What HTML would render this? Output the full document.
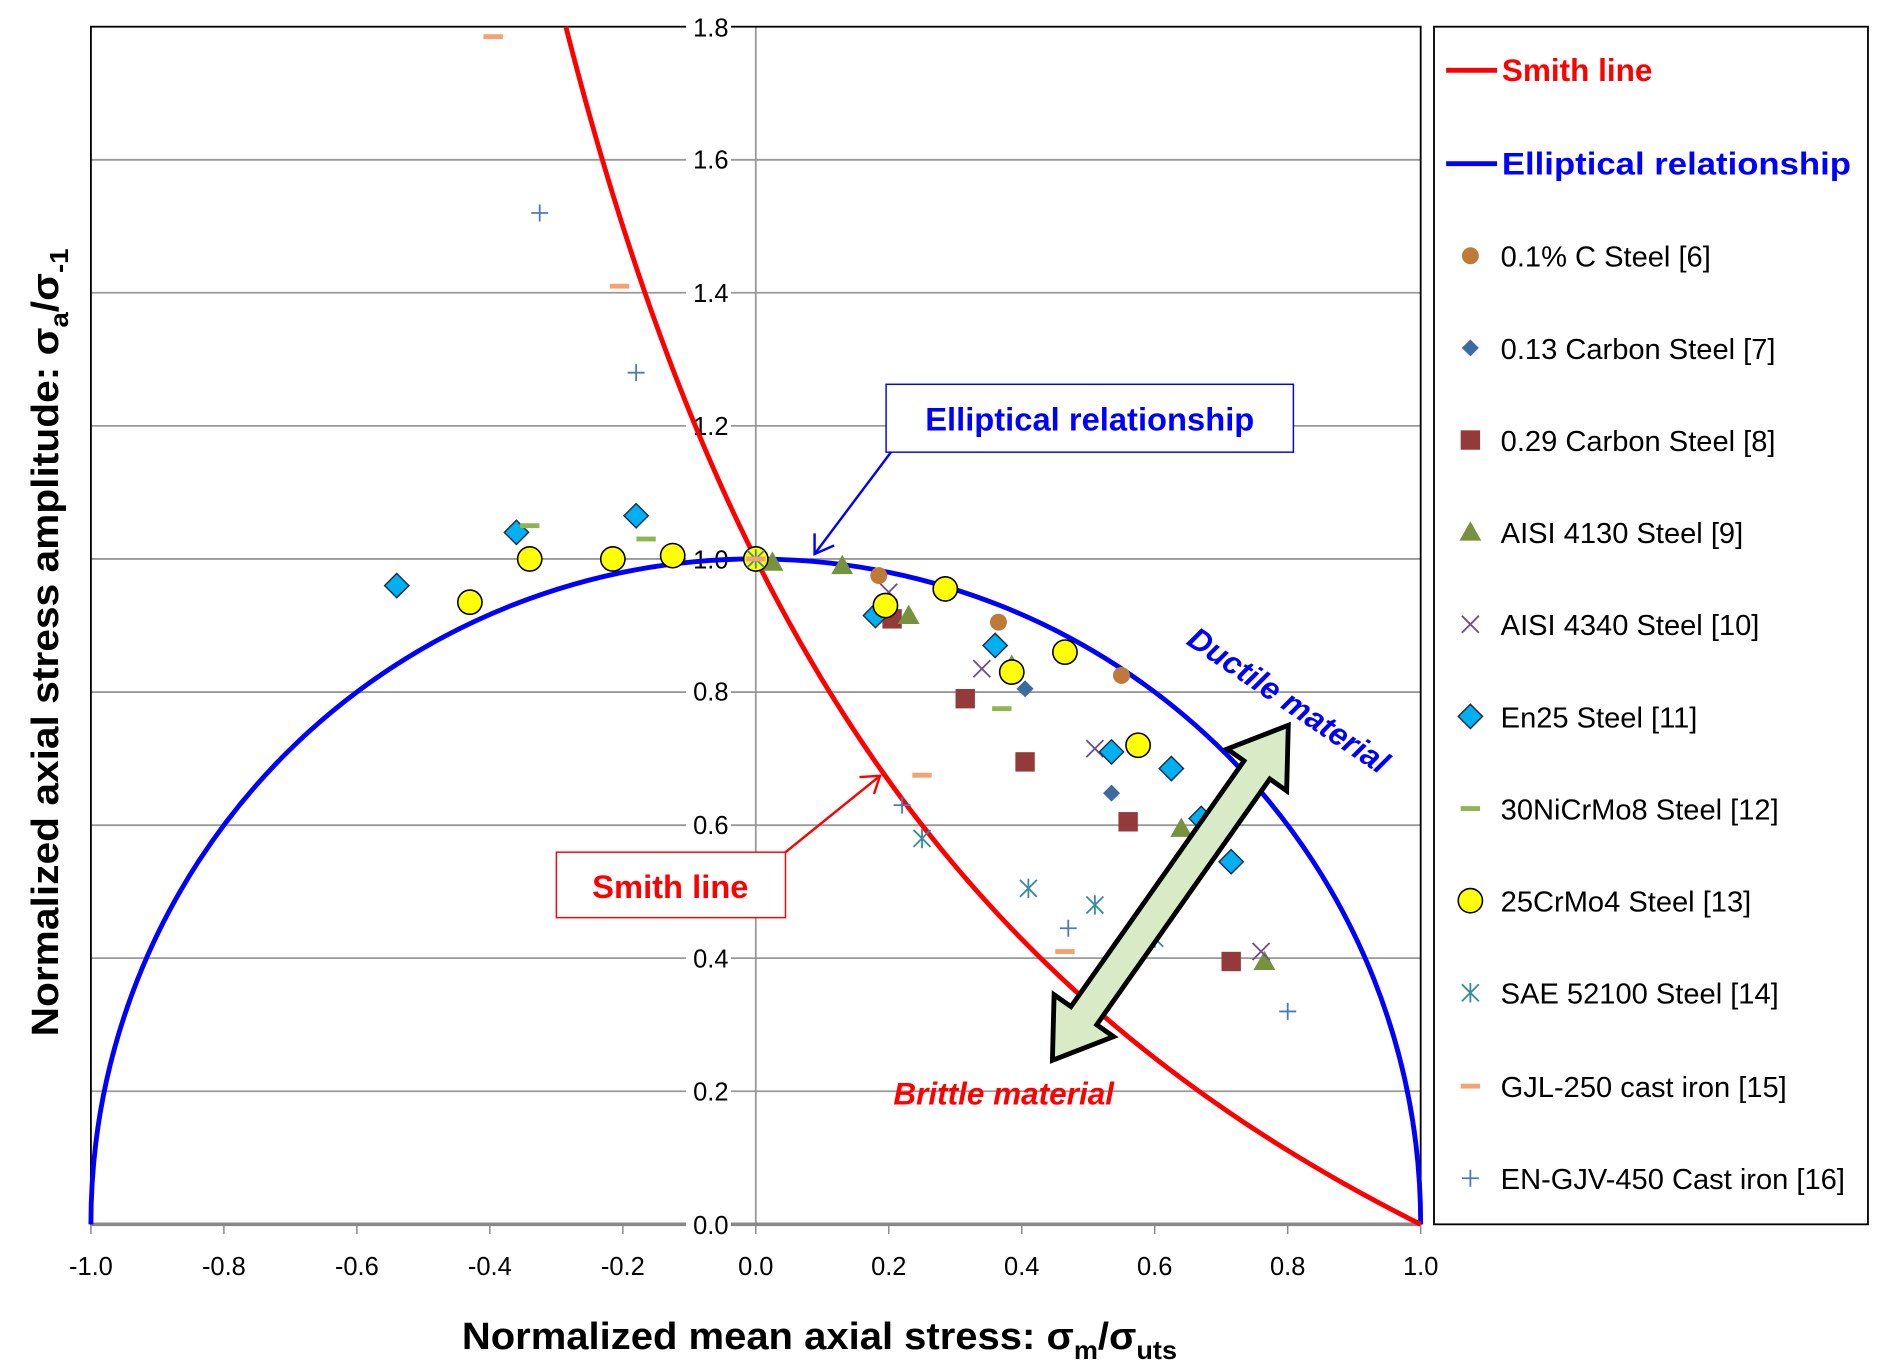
<!DOCTYPE html>
<html><head><meta charset="utf-8"><style>
html,body{margin:0;padding:0;background:#fff;}
svg{display:block;font-family:"Liberation Sans",sans-serif;}
</style></head><body>
<svg id="s" width="1891" height="1368" viewBox="0 0 1560 1128.5" xmlns="http://www.w3.org/2000/svg">
<rect x="0" y="0" width="1560" height="1128.5" fill="#fff"/>
<g stroke="#999" stroke-width="1.5">
<line x1="75" y1="900.2" x2="1172" y2="900.2"/>
<line x1="75" y1="790.4" x2="1172" y2="790.4"/>
<line x1="75" y1="680.7" x2="1172" y2="680.7"/>
<line x1="75" y1="570.9" x2="1172" y2="570.9"/>
<line x1="75" y1="461.1" x2="1172" y2="461.1"/>
<line x1="75" y1="351.3" x2="1172" y2="351.3"/>
<line x1="75" y1="241.5" x2="1172" y2="241.5"/>
<line x1="75" y1="131.8" x2="1172" y2="131.8"/>
<line x1="623.5" y1="22" x2="623.5" y2="1010"/>
</g>
<rect x="75" y="22" width="1097" height="988" fill="none" stroke="#000" stroke-width="1.5"/>
<line x1="75" y1="1010" x2="1172" y2="1010" stroke="#888" stroke-width="3"/>
<g stroke="#888" stroke-width="1.2">
<line x1="75" y1="1010" x2="75" y2="1018"/><line x1="184.7" y1="1010" x2="184.7" y2="1018"/>
<line x1="294.4" y1="1010" x2="294.4" y2="1018"/><line x1="404.1" y1="1010" x2="404.1" y2="1018"/>
<line x1="513.8" y1="1010" x2="513.8" y2="1018"/><line x1="623.5" y1="1010" x2="623.5" y2="1018"/>
<line x1="733.2" y1="1010" x2="733.2" y2="1018"/><line x1="842.9" y1="1010" x2="842.9" y2="1018"/>
<line x1="952.6" y1="1010" x2="952.6" y2="1018"/><line x1="1062.3" y1="1010" x2="1062.3" y2="1018"/>
<line x1="1172" y1="1010" x2="1172" y2="1018"/>
</g>
<g font-size="21" fill="#000" text-anchor="end">
<g fill="#fff"><rect x="566" y="999" width="37" height="22"/><rect x="566" y="889" width="37" height="22"/><rect x="566" y="779" width="37" height="22"/><rect x="566" y="669" width="37" height="22"/><rect x="566" y="559" width="37" height="22"/><rect x="566" y="450" width="37" height="22"/><rect x="566" y="340" width="37" height="22"/><rect x="566" y="230" width="37" height="22"/><rect x="566" y="120" width="37" height="22"/><rect x="566" y="11" width="37" height="22"/></g>
<text x="601" y="1018">0.0</text><text x="601" y="908">0.2</text><text x="601" y="798">0.4</text><text x="601" y="688">0.6</text><text x="601" y="578">0.8</text><text x="601" y="469">1.0</text><text x="601" y="359">1.2</text><text x="601" y="249">1.4</text><text x="601" y="139">1.6</text><text x="601" y="30">1.8</text>
</g>
<g font-size="21" fill="#000" text-anchor="middle">
<text x="75" y="1052">-1.0</text><text x="184.7" y="1052">-0.8</text><text x="294.4" y="1052">-0.6</text><text x="404.1" y="1052">-0.4</text><text x="513.8" y="1052">-0.2</text><text x="623.5" y="1052">0.0</text><text x="733.2" y="1052">0.2</text><text x="842.9" y="1052">0.4</text><text x="952.6" y="1052">0.6</text><text x="1062.3" y="1052">0.8</text><text x="1172" y="1052">1.0</text>
</g>
<path d="M75,1010 A548.5 548.9 0 0 1 1172,1010" fill="none" stroke="#0000ff" stroke-width="4"/>
<path id="smith" fill="none" stroke="#ff0000" stroke-width="4" stroke-linejoin="round" d="M466.6,22 L623.5,461.1 L1172,1010"/>
<g id="pts"></g>
<rect x="731" y="317" width="336" height="56" fill="#fff" stroke="#0000ff" stroke-width="1.2"/>
<text x="899" y="355" font-size="27" font-weight="bold" fill="#0000ff" text-anchor="middle">Elliptical relationship</text>
<line x1="735" y1="373" x2="672" y2="457" stroke="#0000ff" stroke-width="2"/>
<polyline points="672,440 672,457 688,450" fill="none" stroke="#0000ff" stroke-width="2"/>
<rect x="459" y="703" width="189" height="54" fill="#fff" stroke="#ff0000" stroke-width="1.2"/>
<text x="553" y="741" font-size="27" font-weight="bold" fill="#ff0000" text-anchor="middle">Smith line</text>
<line x1="648" y1="703" x2="726" y2="640" stroke="#ff0000" stroke-width="2"/>
<polyline points="709,641 726,640 721,655" fill="none" stroke="#ff0000" stroke-width="2"/>
<text x="828" y="911" font-size="26" font-weight="bold" font-style="italic" fill="#ff0000" text-anchor="middle">Brittle material</text>
<text transform="translate(1058,585) rotate(34)" font-size="26" font-weight="bold" font-style="italic" fill="#0000ff" text-anchor="middle">Ductile material</text>
<polygon transform="translate(965.5,736.5) rotate(-54.85)" points="-169,0 -124,-30 -124,-13 124,-13 124,-30 169,0 124,30 124,13 -124,13 -124,30" fill="#d8ebc6" stroke="#000" stroke-width="4" stroke-linejoin="miter"/>
<text x="676" y="1113" font-size="31" font-weight="bold" text-anchor="middle" textLength="590" lengthAdjust="spacingAndGlyphs">Normalized mean axial stress: σ<tspan font-size="21" dy="8">m</tspan><tspan dy="-8">/σ</tspan><tspan font-size="21" dy="8">uts</tspan></text>
<text transform="translate(48,530) rotate(-90)" font-size="31" font-weight="bold" text-anchor="middle" textLength="650" lengthAdjust="spacingAndGlyphs">Normalized axial stress amplitude: σ<tspan font-size="21" dy="8">a</tspan><tspan dy="-8">/σ</tspan><tspan font-size="21" dy="8">-1</tspan></text>
<rect x="1183" y="22" width="358" height="988" fill="#fff" stroke="#000" stroke-width="1.5"/>
<line x1="1193" y1="58" x2="1235" y2="58" stroke="#ff0000" stroke-width="4"/>
<text x="1239" y="67" font-size="26" font-weight="bold" fill="#ff0000">Smith line</text>
<line x1="1193" y1="135" x2="1235" y2="135" stroke="#0000ff" stroke-width="4"/>
<text x="1239" y="144" font-size="26" font-weight="bold" fill="#0000ff" textLength="288" lengthAdjust="spacingAndGlyphs">Elliptical relationship</text>
<g font-size="24" fill="#000">
<text x="1238" y="220">0.1% C Steel [6]</text>
<text x="1238" y="296">0.13 Carbon Steel [7]</text>
<text x="1238" y="372">0.29 Carbon Steel [8]</text>
<text x="1238" y="448">AISI 4130 Steel [9]</text>
<text x="1238" y="524">AISI 4340 Steel [10]</text>
<text x="1238" y="600">En25 Steel [11]</text>
<text x="1238" y="676">30NiCrMo8 Steel [12]</text>
<text x="1238" y="752">25CrMo4 Steel [13]</text>
<text x="1238" y="828">SAE  52100 Steel [14]</text>
<text x="1238" y="905">GJL-250 cast iron [15]</text>
<text x="1238" y="981" textLength="284" lengthAdjust="spacingAndGlyphs">EN-GJV-450 Cast iron [16]</text>
</g>
<g id="leg"></g>
<script>
(function(){
var NS="http://www.w3.org/2000/svg";
function X(v){return 623.5+548.5*v;} function Y(v){return 1010-548.9*v;}
var d='';for(var i=0;i<=200;i++){var x=-0.2857+i*(1.2857/200);var y=(1-x)/(1+x);d+=(i?'L':'M')+X(x).toFixed(2)+','+Y(y).toFixed(2);}
document.getElementById('smith').setAttribute('d',d);
function el(p,t,a){var e=document.createElementNS(NS,t);for(var k in a)e.setAttribute(k,a[k]);p.appendChild(e);return e;}
function mk(g,type,x,y){
 switch(type){
 case 'circ':el(g,'circle',{cx:x,cy:y,r:7,fill:'#c07a38'});break;
 case 'sdia':el(g,'polygon',{points:(x)+','+(y-7)+' '+(x+7)+','+y+' '+x+','+(y+7)+' '+(x-7)+','+y,fill:'#3d6aa0'});break;
 case 'sq':el(g,'rect',{x:x-8,y:y-8,width:16,height:16,fill:'#953a3a'});break;
 case 'tri':el(g,'polygon',{points:x+','+(y-9)+' '+(x+9)+','+(y+7)+' '+(x-9)+','+(y+7),fill:'#76923c'});break;
 case 'x':el(g,'path',{d:'M'+(x-7)+','+(y-7)+'L'+(x+7)+','+(y+7)+'M'+(x+7)+','+(y-7)+'L'+(x-7)+','+(y+7),stroke:'#6b4f8a','stroke-width':1.5,fill:'none'});break;
 case 'dia':el(g,'polygon',{points:x+','+(y-10)+' '+(x+10)+','+y+' '+x+','+(y+10)+' '+(x-10)+','+y,fill:'#00b0f0',stroke:'#1a3050','stroke-width':1.2});break;
 case 'gdash':el(g,'rect',{x:x-8,y:y-2,width:16,height:4,fill:'#8db650'});break;
 case 'yc':el(g,'ellipse',{cx:x,cy:y,rx:10,ry:10,fill:'#ffff00',stroke:'#000','stroke-width':1.3});break;
 case 'ast':el(g,'path',{d:'M'+(x-7)+','+(y-7)+'L'+(x+7)+','+(y+7)+'M'+(x+7)+','+(y-7)+'L'+(x-7)+','+(y+7)+'M'+x+','+(y-8)+'L'+x+','+(y+8),stroke:'#3a8aa0','stroke-width':1.5,fill:'none'});break;
 case 'odash':el(g,'rect',{x:x-8,y:y-2,width:16,height:4,fill:'#f7a070'});break;
 case 'plus':el(g,'path',{d:'M'+(x-7)+','+y+'L'+(x+7)+','+y+'M'+x+','+(y-7)+'L'+x+','+(y+7),stroke:'#4a7ac0','stroke-width':1.5,fill:'none'});break;
 }}
var D={
 circ:[[0.185,0.975],[0.365,0.905],[0.55,0.825]],
 sdia:[[0.405,0.805],[0.535,0.648]],
 sq:[[0.205,0.91],[0.315,0.79],[0.405,0.695],[0.56,0.605],[0.715,0.395]],
 tri:[[0.025,0.995],[0.13,0.99],[0.23,0.915],[0.385,0.84],[0.64,0.595],[0.765,0.395]],
 x:[[0.2,0.95],[0.34,0.835],[0.51,0.715],[0.76,0.41]],
 dia:[[-0.54,0.96],[-0.36,1.04],[-0.18,1.065],[0.18,0.915],[0.36,0.87],[0.535,0.71],[0.625,0.685],[0.67,0.61],[0.715,0.545]],
 gdash:[[-0.34,1.05],[-0.165,1.03],[0.37,0.775],[0.69,0.61]],
 yc:[[-0.43,0.935],[-0.34,1.0],[-0.215,1.0],[-0.125,1.005],[0,1],[0.195,0.93],[0.285,0.955],[0.385,0.83],[0.465,0.86],[0.575,0.72]],
 ast:[[0,1],[0.25,0.58],[0.41,0.505],[0.51,0.48],[0.6,0.43]],
 odash:[[-0.395,1.785],[-0.205,1.41],[0.25,0.675],[0.465,0.41],[0,1]],
 plus:[[-0.325,1.52],[-0.18,1.28],[0.22,0.63],[0.47,0.445],[0.8,0.32]]
};
var g=document.getElementById('pts');
for(var k in D){D[k].forEach(function(p){mk(g,k,X(p[0]),Y(p[1]));});}
var L=['circ','sdia','sq','tri','x','dia','gdash','yc','ast','odash','plus'];
var ys=[211,287,363,439,515,591,667,743,819,896,972];
var lg=document.getElementById('leg');
L.forEach(function(t,i){mk(lg,t,1213,ys[i]);});
})();
</script>
</svg>
</body></html>
